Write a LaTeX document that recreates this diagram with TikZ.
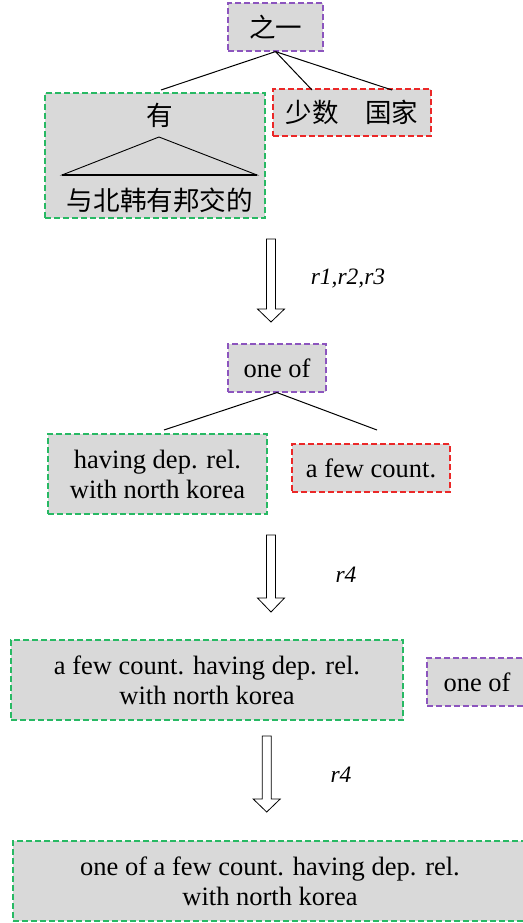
\documentclass[tikz,border=0pt]{standalone}
\usepackage{fontspec}
\setmainfont{Liberation Serif}
\newfontfamily\cjk{Noto Sans CJK SC}

\definecolor{boxgray}{RGB}{217,217,217}
\definecolor{grnline}{RGB}{40,185,100}
\definecolor{purline}{RGB}{140,85,190}
\definecolor{redline}{RGB}{235,40,40}

\tikzset{
  box/.style={fill=boxgray, dash pattern=on 6pt off 3pt, line width=1.2pt,
    inner sep=0pt, align=center, font=\fontsize{26.5}{30}\selectfont},
  grnbox/.style={box, draw=grnline},
  purbox/.style={box, draw=purline},
  redbox/.style={box, draw=redline},
  cjktext/.style={inner sep=0pt, font=\cjk\fontsize{26.6}{30}\selectfont},
  rulelabel/.style={font=\itshape\fontsize{23.5}{26}\selectfont},
  branch/.style={line width=1pt}
}

\begin{document}
\begin{tikzpicture}[x=1pt,y=-1pt]
\useasboundingbox (0,0) rectangle (522,923);

% Chinese tree
\node[purbox,minimum width=95,minimum height=48] (zhiyi) at (275.5,27) {\cjk 之一};
\node[grnbox,minimum width=220,minimum height=125] (you) at (155,155.5) {};
\node[cjktext] (youw) at (160,115) {有};
\node[cjktext] (yubei) at (160,200) {与北韩有邦交的};
\node[redbox,minimum width=158,minimum height=47] (shaoshu) at (352,112.5) {\cjk 少数　国家};
\coordinate (b1) at (161,90);
\coordinate (b2) at (312,90);
\coordinate (b3) at (392,90);
\foreach \c in {b1,b2,b3}
  \draw[branch] (zhiyi.south) -- (\c);
\draw[line width=0.9pt] (62,175) -- (159,137) -- (257,175) -- cycle;
\draw[line width=1.3pt] (62,175) -- (257,175);

% English tree
\node[purbox,minimum width=98,minimum height=48] (oneof) at (277,368) {one of};
\node[grnbox,minimum width=219,minimum height=80] (having) at (157.5,474) {having dep. rel.\\with north korea};
\node[redbox,minimum width=158,minimum height=48] (afew) at (371,468) {a few count.};
\coordinate (c1) at (164,430);
\coordinate (c2) at (377,430);
\foreach \c in {c1,c2}
  \draw[branch] (oneof.south) -- (\c);

% after first r4
\node[grnbox,minimum width=392,minimum height=80] (merged) at (207,680) {a few count. having dep. rel.\\with north korea};
\node[purbox,minimum width=100,minimum height=48] (oneofb) at (477,682) {one of};

% after second r4
\node[grnbox,minimum width=514,minimum height=80] (final) at (270,881) {one of a few count. having dep. rel.\\with north korea};

% hollow arrows
\foreach \x/\t/\h/\e/\lx/\ly/\l in {271/239/309/322/348/279/{r1,r2,r3},
                                     271/535/598/612/346/575/{r4},
                                     266.7/736/799/812/341/775/{r4}}{
  \draw[line width=0.8pt,fill=white] (\x-4.5,\t) -- (\x+4.5,\t) -- (\x+4.5,\h) -- (\x+13.5,\h)
    -- (\x,\e) -- (\x-13.5,\h) -- (\x-4.5,\h) -- cycle;
  \node[rulelabel] at (\lx,\ly) {\l};
}

\end{tikzpicture}
\end{document}
